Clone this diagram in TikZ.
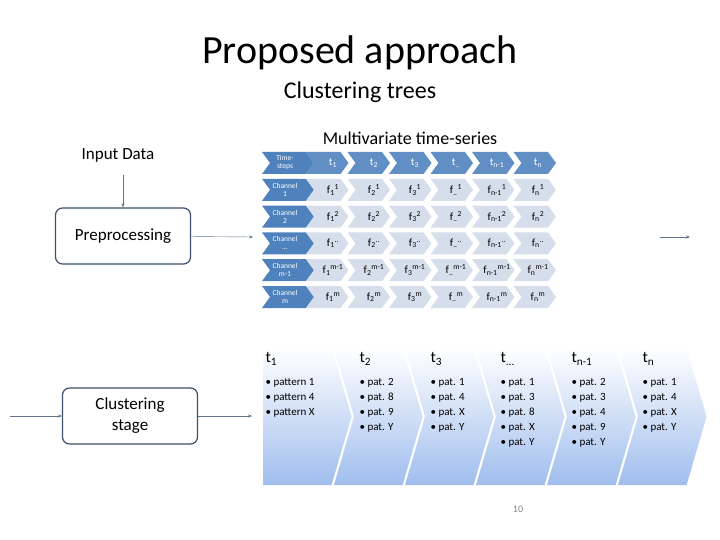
\documentclass[tikz,border=0pt]{standalone}
\usepackage{fontspec}
\setmainfont{Carlito}
\usetikzlibrary{arrows.meta}
\usetikzlibrary{calc}
\definecolor{hdblue}{RGB}{79,129,189}
\definecolor{cellblue}{RGB}{214,222,236}
\definecolor{boxline}{RGB}{60,80,105}
\definecolor{arrowgray}{RGB}{95,115,140}
\definecolor{patblue}{RGB}{160,190,238}
\tikzset{
  stagebox/.style={draw=boxline, line width=1.2pt, rounded corners=7pt, minimum width=135pt, minimum height=56pt, align=center, font=\fontsize{17}{21}\selectfont},
  flow/.style={draw=arrowgray, -{Stealth[length=4pt]}},
  hdlabel/.style={font=\fontsize{7.5}{8}\selectfont, text=white, align=center},
  cell/.style={font=\fontsize{11}{11}\selectfont},
  pattxt/.style={font=\fontsize{11}{15}\selectfont, align=left, anchor=north west},
  pathead/.style={font=\fontsize{16}{18}\selectfont, anchor=north west}
}
\begin{document}
\begin{tikzpicture}[x=1pt, y=-1pt]
        \useasboundingbox (0,0) rectangle (720,540);
        \newcommand{\chev}[6]{% x, y(top), width, height, tip depth, notch depth
          (#1,#2) -- ++(#3,0) -- ++(#5,#4/2) -- ++(-#5,#4/2) -- ++(-#3,0) -- ++(#6,-#4/2) -- cycle}
        % titles
        \node (title) at (360,53) {\fontsize{40}{44}\selectfont Proposed approach};
        \node (subtitle) at (360,92) {\fontsize{24}{26}\selectfont Clustering trees};
        \node (mts) at (410,138) {\fontsize{18}{20}\selectfont Multivariate time-series};
        % left flow
        \node (input) at (118,155) {\fontsize{17}{19}\selectfont Input Data};
        \node[stagebox] (prep) at (123,236) {Preprocessing};
        \node[stagebox] (clust) at (130,416) {Clustering\\stage};
        \coordinate (inA) at (123,175);
        \coordinate (prepout) at (253,237);
        \coordinate (tabout) at (690,237);
        \coordinate (tabin) at (660,237);
        \coordinate (clin) at (10,416);
        \coordinate (clout) at (252,416);
        \draw[flow] (inA) -- (prep.north -| inA);
        \draw[flow] (prep) -- (prepout);
        \draw[flow] (tabin) -- (tabout);
        \draw[flow] (clin) -- (clust);
        \draw[flow] (clust) -- (clout);
        % table of chevrons
        \foreach \lab [count=\r from 0] in {{Time-\\steps}, {Channel\\1}, {Channel\\2}, {Channel\\\ldots}, {Channel\\m-1}, {Channel\\m}} {
          \pgfmathsetmacro{\ytop}{152+26.8*\r}
          \fill[hdblue] \chev{262}{\ytop}{44}{22}{8}{8};
          \node[hdlabel] (lab\r) at (285,\ytop+11) {\lab};
        }
        \foreach \c in {0,...,5} {
          \pgfmathsetmacro{\xl}{306+41.5*\c}
          \fill[hdblue!90] \chev{\xl}{152}{34.5}{22}{8}{8};
          \foreach \r in {1,...,5} {
            \pgfmathsetmacro{\ytop}{152+26.8*\r}
            \fill[cellblue] \chev{\xl}{\ytop}{34.5}{22}{8}{8};
          }
        }
        \foreach \s [count=\c from 0] in {1,2,3,..,n-1,n} {
          \pgfmathsetmacro{\xc}{333+41*\c}
          \node[cell, text=white] (t\c) at (\xc,163) {t\textsubscript{\s}};
          \foreach \sup [count=\r from 1] in {1,2,..,m-1,m} {
            \node[cell] (f\c\r) at (\xc,163+26.8*\r) {f\textsubscript{\s}\textsuperscript{\sup}};
          }
        }
        % clustering stage chevrons
        \shade[top color=white, bottom color=patblue] \chev{263}{348}{70}{137}{20}{0};
        \draw[white, line width=2.5pt] (333,348) -- ++(20,68.5) -- ++(-20,68.5);
        \foreach \c in {1,...,5} {
          \pgfmathsetmacro{\xl}{263+71*\c}
          \shade[top color=white, bottom color=patblue] \chev{\xl}{348}{70}{137}{20}{20};
          \draw[white, line width=2.5pt] (\xl+70,348) -- ++(20,68.5) -- ++(-20,68.5);
        }
        \node[pathead] (p1) at (262,349) {t\textsubscript{1}};
        \node[pattxt] (q1) at (262,375) {• pattern 1\\• pattern 4\\• pattern X};
        \node[pathead] (p2) at (356,349) {t\textsubscript{2}};
        \node[pattxt] (q2) at (356,375) {• pat. 2\\• pat. 8\\• pat. 9\\• pat. Y};
        \node[pathead] (p3) at (427,349) {t\textsubscript{3}};
        \node[pattxt] (q3) at (427,375) {• pat. 1\\• pat. 4\\• pat. X\\• pat. Y};
        \node[pathead] (p4) at (497,349) {t\textsubscript{...}};
        \node[pattxt] (q4) at (497,375) {• pat. 1\\• pat. 3\\• pat. 8\\• pat. X\\• pat. Y};
        \node[pathead] (p5) at (568,349) {t\textsubscript{n-1}};
        \node[pattxt] (q5) at (568,375) {• pat. 2\\• pat. 3\\• pat. 4\\• pat. 9\\• pat. Y};
        \node[pathead] (p6) at (639,349) {t\textsubscript{n}};
        \node[pattxt] (q6) at (639,375) {• pat. 1\\• pat. 4\\• pat. X\\• pat. Y};
        % page number
        \node[font=\fontsize{10}{12}\selectfont, text=gray] (page) at (518,509) {10};
\end{tikzpicture}
\end{document}
